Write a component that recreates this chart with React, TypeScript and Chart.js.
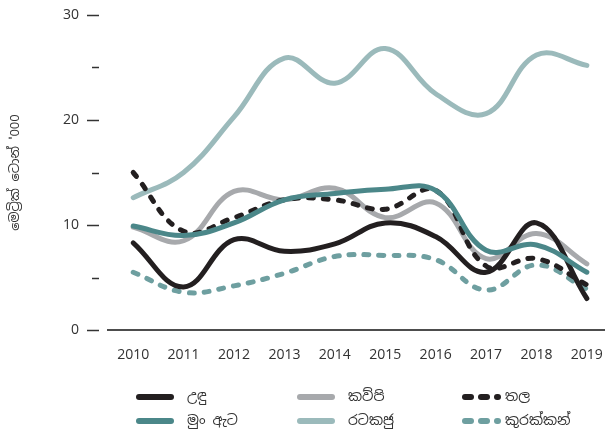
import React, { useEffect, useRef } from "react";
import { Chart, registerables } from "chart.js";

Chart.register(...registerables);

const years = [2010, 2011, 2012, 2013, 2014, 2015, 2016, 2017, 2018, 2019];
const yTicks = [0, 5, 10, 15, 20, 25, 30];
const yTitle = "මෙට්‍රික් ටොන් '000";

const seriesNames = ["උඳු", "කව්පි", "තල", "මුං ඇට", "රටකජු", "කුරක්කන්"];
const udu = [8.3, 4.1, 8.6, 7.5, 8.2, 10.2, 8.9, 5.5, 10.2, 3.0];
const kavpi = [9.8, 8.5, 13.2, 12.4, 13.5, 10.7, 12.1, 6.8, 9.2, 6.3];
const thala = [15.0, 9.4, 10.7, 12.4, 12.4, 11.5, 13.3, 6.1, 6.8, 4.3];
const mung = [9.9, 9.0, 10.2, 12.4, 13.0, 13.4, 13.3, 7.6, 8.1, 5.5];
const ratakaju = [12.6, 15.0, 20.3, 25.9, 23.5, 26.8, 22.5, 20.6, 26.2, 25.2];
const kurakkan = [5.5, 3.6, 4.2, 5.4, 7.0, 7.1, 6.7, 3.8, 6.2, 3.9];

const FONT = "'Noto Sans Sinhala', 'Open Sans', 'Noto Sans', sans-serif";

const toPts = (vals: number[]) => years.map((y, i) => ({ x: y, y: vals[i] }));

const tickMarks = {
  id: "tickMarks",
  afterDraw(chart: any) {
    const { ctx, chartArea, scales } = chart;
    const ys = scales.y;
    ctx.save();
    ctx.strokeStyle = "#333333";
    ctx.lineWidth = 1.5;
    yTicks.forEach((v) => {
      const py = Math.round(ys.getPixelForValue(v)) + 0.5;
      const major = v % 10 === 0;
      ctx.beginPath();
      ctx.moveTo(chartArea.left - (major ? 21 : 16), py);
      ctx.lineTo(chartArea.left - 9, py);
      ctx.stroke();
    });
    ctx.restore();
  },
};

const customLegend = {
  id: "customLegend",
  afterDraw(chart: any) {
    const { ctx } = chart;
    const ds = chart.data.datasets;
    const cols = [136, 297, 462];
    const rows = [397, 421];
    const layout = [
      [0, 0, 0],
      [1, 1, 0],
      [2, 2, 0],
      [3, 0, 1],
      [4, 1, 1],
      [5, 2, 1],
    ];
    ctx.save();
    layout.forEach(([idx, c, r]) => {
      const d = ds[idx];
      const x = cols[c];
      const y = rows[r];
      ctx.strokeStyle = d.borderColor;
      ctx.lineWidth = 6;
      ctx.lineCap = "round";
      if (d.borderDash && d.borderDash.length) {
        const segs = [
          [x + 3, x + 9],
          [x + 19, x + 25],
          [x + 35, x + 36],
        ];
        segs.forEach(([a, b]) => {
          ctx.beginPath();
          ctx.moveTo(a, y);
          ctx.lineTo(b, y);
          ctx.stroke();
        });
      } else {
        ctx.beginPath();
        ctx.moveTo(x + 3, y);
        ctx.lineTo(x + 35, y);
        ctx.stroke();
      }
      ctx.fillStyle = "#333333";
      ctx.font = "14px " + FONT;
      ctx.textBaseline = "middle";
      ctx.textAlign = "left";
      ctx.fillText(d.label, x + (c === 2 ? 43 : 51), y);
    });
    ctx.restore();
  },
};

export default function App() {
  const ref = useRef<HTMLCanvasElement | null>(null);

  useEffect(() => {
    document.body.style.margin = "0";
    const line = (label: string, vals: number[], color: string, order: number, dashed = false) => ({
      label,
      data: toPts(vals),
      borderColor: color,
      backgroundColor: color,
      borderWidth: 5,
      tension: 0.4,
      pointRadius: 0,
      borderCapStyle: "round",
      borderJoinStyle: "round",
      borderDash: dashed ? [5, 10] : [],
      fill: false,
      order,
    });
    const chart = new Chart(ref.current as HTMLCanvasElement, {
      type: "line",
      data: {
        datasets: [
          line(seriesNames[0], udu, "#231f20", 2),
          line(seriesNames[1], kavpi, "#a7a9ac", 4),
          line(seriesNames[2], thala, "#231f20", 3, true),
          line(seriesNames[3], mung, "#4b8789", 1),
          line(seriesNames[4], ratakaju, "#9bbabb", 5),
          line(seriesNames[5], kurakkan, "#6e9fa0", 6, true),
        ] as any,
      },
      options: {
        responsive: false,
        animation: false,
        layout: { autoPadding: false, padding: { top: 15, right: 0, bottom: 64, left: 0 } },
        plugins: { legend: { display: false }, tooltip: { enabled: false } },
        scales: {
          x: {
            type: "linear",
            min: 2009.5,
            max: 2019.36,
            afterFit: (s: any) => {
              s.height = 35;
              s.paddingLeft = 0;
              s.paddingRight = 0;
            },
            grid: { display: false, drawTicks: false },
            border: { display: true, color: "#4d4d4d", width: 2 },
            ticks: {
              stepSize: 1,
              includeBounds: false,
              autoSkip: false,
              maxRotation: 0,
              padding: 17,
              color: "#333333",
              font: { family: FONT, size: 14 },
              callback: (v: any) => (Number.isInteger(v) ? String(v) : ""),
            },
          },
          y: {
            min: 0,
            max: 30,
            afterFit: (s: any) => {
              s.width = 108;
              s.paddingTop = 0;
              s.paddingBottom = 0;
            },
            grid: { display: false, drawTicks: false },
            border: { display: false },
            ticks: {
              stepSize: 5,
              padding: 29,
              color: "#333333",
              font: { family: FONT, size: 14 },
              callback: (v: any) => (v % 10 === 0 ? String(v) : ""),
            },
            title: {
              display: true,
              text: yTitle,
              color: "#333333",
              font: { family: FONT, size: 13 },
              padding: { top: 8, bottom: 0 },
            },
          },
        },
      },
      plugins: [tickMarks, customLegend],
    } as any);
    return () => chart.destroy();
  }, []);

  return (
    <div style={{ position: "absolute", left: 0, top: 0, width: 605, height: 429, background: "#fff" }}>
      <canvas ref={ref} width={605} height={429} />
    </div>
  );
}
